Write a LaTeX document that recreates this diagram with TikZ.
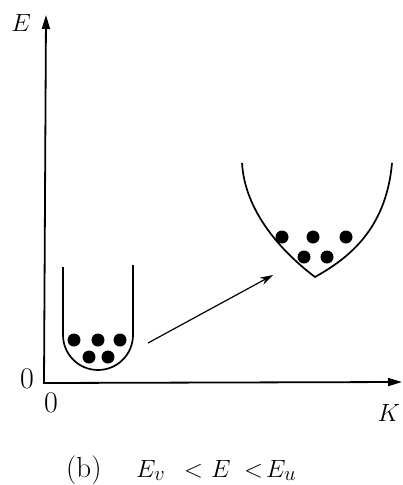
\documentclass[tikz,border=0pt]{standalone}
\usetikzlibrary{arrows.meta}
\begin{document}
\begin{tikzpicture}[x=1pt,y=-1pt,
 axis/.style={line width=1.8pt,-{Triangle[length=14pt,width=8pt]}},
 curve/.style={line width=1.7pt},
 jump/.style={line width=1.2pt,-{Stealth[length=13pt,width=8pt]}},
 dot/.style={circle,fill=black,inner sep=0pt,minimum size=13pt},
 lbl/.style={font=\fontsize{30}{34}\selectfont,inner sep=0pt},
 captext/.style={font=\fontsize{29}{34}\selectfont,inner sep=0pt,anchor=base west},
 ]
\useasboundingbox (0,0) rectangle (403,485);
% axes
\coordinate (O) at (44,383);
\coordinate (Etop) at (46,15);
\coordinate (Kend) at (402,382);
\draw[axis] ([yshift=-0.9pt]O) -- (Etop);
\draw[axis] ([xshift=-0.9pt]O) -- (Kend);
% axis labels
\node[lbl] (E) at (21,23) {$E$};
\node[lbl] (zeroE) at (27,379) {0};
\node[lbl] (zeroK) at (51,403) {0};
\node[lbl] (K) at (389,413) {$K$};
% left well
\draw[curve] (63,267) -- (63,335) .. controls (63,354.3) and (78.7,370) .. (98,370)
  .. controls (117.3,370) and (133,354.3) .. (133,335) -- (133,265);
\node[dot] (l1) at (74,340) {};
\node[dot] (l2) at (98,340) {};
\node[dot] (l3) at (120,340) {};
\node[dot] (l4) at (89,357) {};
\node[dot] (l5) at (108,357) {};
% right valley
\draw[curve] (242,163) .. controls (245,212) and (282,252) .. (315,277)
  .. controls (345,260) and (386,232) .. (392,163);
\node[dot] (r1) at (282,237) {};
\node[dot] (r2) at (313,237) {};
\node[dot] (r3) at (346,237) {};
\node[dot] (r4) at (304,257) {};
\node[dot] (r5) at (327,257) {};
% transition arrow
\coordinate (from) at (148,343);
\coordinate (to) at (273,275);
\draw[jump] (from) -- (to);
% caption
\node[captext] (cb) at (66,477) {(b)};
\node[captext] (cev) at (136,477) {$E_{v}$};
\node[captext] (clt1) at (184,477) {$<$};
\node[captext] (ce) at (211,477) {$E$};
\node[captext] (clt2) at (244,477) {$<$};
\node[captext] (ceu) at (266,477) {$E_{u}$};
\end{tikzpicture}
\end{document}
